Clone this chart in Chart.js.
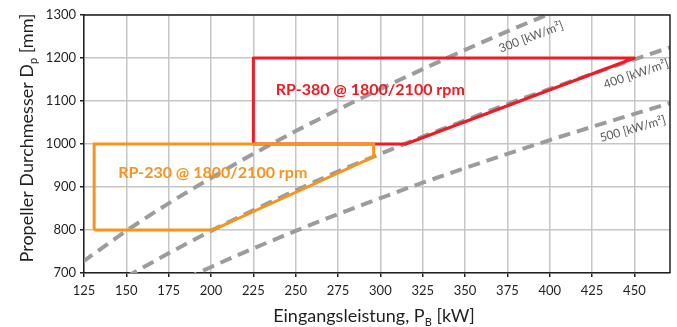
<!DOCTYPE html>
<html>
<head>
<meta charset="utf-8">
<script src="https://cdn.jsdelivr.net/npm/chart.js@4.4.1/dist/chart.umd.min.js"></script>
<style>
  html, body { margin: 0; padding: 0; background: #fff; }
  #wrap { width: 677px; height: 327px; }
</style>
</head>
<body>
<div id="wrap"><canvas id="chart" width="677" height="327"></canvas></div>
<script>
// axis ticks
const xTicks = [125, 150, 175, 200, 225, 250, 275, 300, 325, 350, 375, 400, 425, 450];
const yTicks = [700, 800, 900, 1000, 1100, 1200, 1300];

// operating envelopes (P in kW, D in mm)
const rp380P = [225, 225, 450, 315, 225];
const rp380D = [1000, 1200, 1200, 1000, 1000];
const rp230P = [131, 131, 296, 296, 201, 131];
const rp230D = [800, 1000, 1000, 970, 800, 800];

// constant power density lines
const pd300P = [115, 125, 150, 175, 200, 225, 250, 275, 300, 325, 350, 375, 400];
const pd300D = [700, 728, 798, 862, 921, 977, 1030, 1080, 1128, 1174, 1219, 1262, 1303];
const pd400P = [150, 175, 200, 225, 250, 275, 300, 325, 350, 375, 400, 425, 450, 475];
const pd400D = [691, 746, 798, 846, 892, 936, 977, 1017, 1055, 1093, 1128, 1163, 1197, 1230];
const pd500P = [175, 200, 225, 250, 275, 300, 325, 350, 375, 400, 425, 450, 475];
const pd500D = [668, 714, 757, 798, 837, 874, 910, 944, 977, 1009, 1040, 1070, 1100];

const labels = [
  { text: "RP-380 @ 1800/2100 rpm", p: 294, d: 1126, color: "#ed1c24", font: "bold 16px Lato", angle: 0 },
  { text: "RP-230 @ 1800/2100 rpm", p: 201, d: 933, color: "#f7941d", font: "bold 16px Lato", angle: 0 },
  { text: "300 [kW/m\u00b2]", p: 389, d: 1249, color: "#58595b", font: "12px Lato", angle: -21 },
  { text: "400 [kW/m\u00b2]", p: 451, d: 1163, color: "#58595b", font: "12px Lato", angle: -19 },
  { text: "500 [kW/m\u00b2]", p: 449, d: 1035, color: "#58595b", font: "12px Lato", angle: -16 },
];

const RED = "#ed1c24";
const ORANGE = "#f7941d";
const GREY = "#9c9c9f";
const INK = "#231f20";

const pts = (xs, ys) => xs.map((x, i) => ({ x, y: ys[i] }));

function drawParts(ctx, parts, size, x, y) {
  // parts: [text, isSub]
  const big = `${size}px Lato`;
  const small = `${Math.round(size * 0.62)}px Lato`;
  let total = 0;
  parts.forEach(([t, sub]) => {
    ctx.font = sub ? small : big;
    total += ctx.measureText(t).width;
  });
  let cx = x - total / 2;
  parts.forEach(([t, sub]) => {
    ctx.font = sub ? small : big;
    ctx.fillText(t, cx, sub ? y + size * 0.22 : y);
    cx += ctx.measureText(t).width;
  });
}

const annotations = {
  id: "annotations",
  afterDatasetsDraw(chart) {
    const { ctx, scales } = chart;
    ctx.save();
    labels.forEach((l) => {
      const x = scales.x.getPixelForValue(l.p);
      const y = scales.y.getPixelForValue(l.d);
      ctx.save();
      ctx.translate(x, y);
      ctx.rotate((l.angle * Math.PI) / 180);
      ctx.font = l.font;
      ctx.fillStyle = l.color;
      ctx.textAlign = "center";
      ctx.textBaseline = "middle";
      ctx.fillText(l.text, 0, 0);
      ctx.restore();
    });
    ctx.restore();
  },
  afterDraw(chart) {
    const { ctx, chartArea: a } = chart;
    ctx.save();
    // frame top and right
    ctx.strokeStyle = INK;
    ctx.lineWidth = 1.5;
    ctx.beginPath();
    ctx.moveTo(a.left, a.top);
    ctx.lineTo(a.right, a.top);
    ctx.lineTo(a.right, a.bottom);
    ctx.stroke();

    // axis titles with subscripts
    ctx.fillStyle = INK;
    ctx.textBaseline = "alphabetic";
    ctx.textAlign = "left";
    drawParts(ctx, [["Eingangsleistung, P", false], ["B", true], [" [kW]", false]], 18, 374, 322);

    ctx.translate(33, 138);
    ctx.rotate(-Math.PI / 2);
    drawParts(ctx, [["Propeller Durchmesser D", false], ["p", true], [" [mm]", false]], 18, 0, 0);
    ctx.restore();
  },
};

const gridOpts = {
  color: "#c6c6c6",
  lineWidth: 1.5,
  tickColor: INK,
  tickWidth: 1.5,
  tickLength: 4,
};

const dashed = { borderColor: GREY, borderWidth: 4, borderDash: [12, 7], cubicInterpolationMode: "monotone", order: 3 };

new Chart(document.getElementById("chart"), {
  type: "line",
  data: {
    // lower order is drawn on top
    datasets: [
      { data: pts(rp230P, rp230D), borderColor: ORANGE, borderWidth: 3, order: 1 },
      { data: pts(rp380P, rp380D), borderColor: RED, borderWidth: 3, order: 2, borderJoinStyle: "round" },
      { data: pts(pd300P, pd300D), ...dashed },
      { data: pts(pd400P, pd400D), ...dashed },
      { data: pts(pd500P, pd500D), ...dashed },
    ],
  },
  options: {
    responsive: false,
    animation: false,
    devicePixelRatio: 1,
    layout: { padding: { top: 15, right: 7, left: 0, bottom: 0 } },
    elements: {
      point: { radius: 0, hoverRadius: 0 },
      line: { fill: false, borderJoinStyle: "miter", borderCapStyle: "butt" },
    },
    plugins: { legend: { display: false }, tooltip: { enabled: false } },
    scales: {
      x: {
        type: "linear",
        min: 125,
        max: 471,
        afterBuildTicks: (s) => { s.ticks = xTicks.map((v) => ({ value: v })); },
        afterFit: (s) => { s.height = 54; },
        ticks: { color: INK, font: { family: "Lato", size: 13 }, padding: 6, maxRotation: 0, callback: (v) => String(v) },
        grid: { ...gridOpts, borderDash: [8, 5] },
        border: { color: INK, width: 1.5, dash: [] },
      },
      y: {
        min: 700,
        max: 1300,
        afterBuildTicks: (s) => { s.ticks = yTicks.map((v) => ({ value: v })); },
        afterFit: (s) => { s.width = 84; },
        ticks: { color: INK, font: { family: "Lato", size: 13 }, padding: 4, callback: (v) => String(v) },
        grid: { ...gridOpts, borderDash: [8, 5] },
        border: { color: INK, width: 1.5, dash: [] },
      },
    },
  },
  plugins: [annotations],
});
</script>
</body>
</html>
